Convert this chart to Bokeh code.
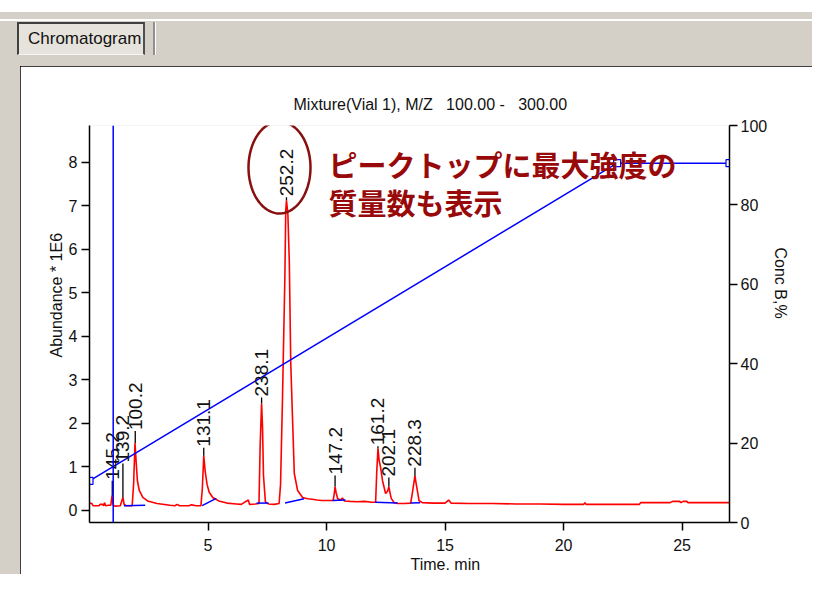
import numpy as np
from bokeh.plotting import figure
from bokeh.layouts import column
from bokeh.models import (LinearAxis, Range1d, FixedTicker, Label, Title, Div,
                          PolyAnnotation, Span)
from bokeh.core.properties import value
from bokeh.embed import file_html
from bokeh.resources import INLINE

# ---------------- data ----------------
trace_time = [0.00, 0.10, 0.15, 0.40, 0.45, 0.55, 0.60, 0.63, 0.68, 0.80, 0.90, 0.95, 1.00,
              1.10, 1.30, 1.36, 1.41, 1.46, 1.55, 1.80, 1.86, 1.92, 1.97, 2.02, 2.10, 2.25,
              2.45, 2.85, 3.40, 3.60, 3.70, 3.80, 4.20, 4.30, 4.50, 4.70, 4.76, 4.82, 4.88,
              4.96, 5.05, 5.20, 5.45, 5.80, 6.20, 6.40, 6.70, 6.75, 7.00, 7.15, 7.20, 7.26,
              7.30, 7.34, 7.42, 7.55, 7.80, 8.00, 8.06, 8.14, 8.24, 8.28, 8.31, 8.37, 8.43,
              8.49, 8.56, 8.64, 8.78, 8.99, 9.20, 9.40, 9.60, 9.80, 10.00, 10.28, 10.33,
              10.36, 10.40, 10.47, 10.60, 10.67, 10.75, 11.00, 11.30, 11.60, 11.90, 12.07,
              12.12, 12.17, 12.22, 12.28, 12.36, 12.49, 12.58, 12.63, 12.68, 12.73, 12.85,
              13.00, 13.30, 13.55, 13.62, 13.73, 13.78, 13.83, 13.90, 14.04, 14.50, 15.00,
              15.15, 15.25, 16.00, 17.00, 18.00, 19.00, 20.00, 20.85, 20.90, 20.95, 22.00,
              23.20, 23.25, 24.50, 24.60, 24.90, 24.95, 25.05, 25.20, 25.25, 27.00]
trace_abund = [0.17, 0.16, 0.11, 0.11, 0.14, 0.14, 0.11, 0.18, 0.11, 0.12, 0.12, 0.34, 0.12,
               0.10, 0.11, 0.22, 0.30, 0.14, 0.11, 0.11, 0.60, 1.55, 1.10, 0.69, 0.46, 0.30,
               0.22, 0.16, 0.12, 0.11, 0.14, 0.11, 0.11, 0.13, 0.11, 0.11, 0.50, 1.26, 0.90,
               0.60, 0.42, 0.30, 0.22, 0.17, 0.15, 0.14, 0.24, 0.14, 0.15, 0.16, 1.50, 2.46,
               1.90, 0.80, 0.20, 0.15, 0.14, 0.16, 0.60, 2.53, 5.29, 6.90, 7.13, 6.80, 5.70,
               3.40, 2.20, 0.85, 0.46, 0.30, 0.27, 0.26, 0.24, 0.23, 0.23, 0.23, 0.40,
               0.55, 0.42, 0.27, 0.24, 0.29, 0.22, 0.21, 0.20, 0.21, 0.19, 0.19,
               0.90, 1.43, 1.15, 0.99, 0.69, 0.39, 0.45, 0.55, 0.40, 0.28, 0.18,
               0.16, 0.16, 0.17, 0.40, 0.80, 0.62, 0.46, 0.23, 0.18, 0.17, 0.17,
               0.24, 0.17, 0.16, 0.16, 0.15, 0.15, 0.14, 0.14, 0.18, 0.14, 0.14,
               0.14, 0.18, 0.18, 0.21, 0.21, 0.18, 0.21, 0.21, 0.18, 0.18]

peak_mz = ["145.2", "139.2", "100.2", "131.1", "238.1", "252.2", "147.2", "161.2", "202.1", "228.3"]
peak_time = [0.96, 1.41, 1.93, 4.82, 7.26, 8.31, 10.36, 12.17, 12.63, 13.73]
peak_height = [0.34, 0.30, 1.55, 1.26, 2.46, 7.13, 0.55, 1.43, 0.55, 0.80]
stem_px = [15, 34, 12, 8, 6, 3, 11, 2, 9, 8]

base_t0 = [1.45, 4.75, 7.05, 8.25, 10.25, 12.05, 13.55]
base_t1 = [2.35, 5.35, 7.55, 9.05, 10.80, 13.00, 13.95]
base_a0 = [0.11, 0.11, 0.17, 0.17, 0.23, 0.19, 0.17]
base_a1 = [0.12, 0.28, 0.17, 0.27, 0.24, 0.17, 0.18]

grad_time = [0.0, 22.26, 27.0]
grad_conc = [10.5, 90.5, 90.5]
injection_time = 1.0

x_ticks = [5, 10, 15, 20, 25]
y_ticks = [0, 1, 2, 3, 4, 5, 6, 7, 8]
conc_ticks = [0, 20, 40, 60, 80, 100]

title_text = "Mixture(Vial 1), M/Z   100.00 -   300.00"
tab_text = "Chromatogram"
note_lines = ["ピークトップに最大強度の", "質量数も表示"]

# ---------------- layout ----------------
PAGE_W, PAGE_H = 812, 574
TOP_H = 66           # window chrome above the white panel
LEFT_M = 20          # grey strip left of the panel
W, H = PAGE_W - LEFT_M, PAGE_H - TOP_H
FL, FR, FT, FB = 69, 709, 59, 456
X0, X1 = 0.0, 27.0
Y0, Y1 = -0.276, 8.85
ppu = (FB - FT) / (Y1 - Y0)

FONT = "Liberation Sans"
GREY = "#d4d0c8"
NOTE_RED = "#980a0a"

p = figure(width=W, height=H, output_backend="svg", toolbar_location=None,
           x_range=Range1d(X0, X1), y_range=Range1d(Y0, Y1),
           min_border_left=FL, min_border_right=W - FR,
           min_border_top=FT, min_border_bottom=H - FB,
           background_fill_color="white", border_fill_color="white",
           outline_line_color=None, title=title_text.replace(" ", "\u00a0"))
p.margin = (0, 0, 0, LEFT_M)
p.styles = {"outline": "2px solid #000000", "outline-offset": "-2px"}
p.xgrid.visible = False
p.ygrid.visible = False
p.extra_y_ranges = {"conc": Range1d(0, 100)}

def style_title(t, offset, standoff):
    t.align = "left"
    t.offset = offset
    t.standoff = standoff
    t.text_font = FONT
    t.text_font_size = "16px"
    t.text_font_style = "normal"
    t.text_color = "#111111"

style_title(p.title, 204, 26)

def style_axis(ax, standoff):
    ax.axis_line_color = "#000000"
    ax.axis_line_width = 1.5
    ax.major_tick_line_color = "#000000"
    ax.major_tick_line_width = 1.5
    ax.major_tick_out = 8
    ax.major_tick_in = 0
    ax.minor_tick_line_color = None
    ax.major_label_text_font = FONT
    ax.major_label_text_font_size = "16px"
    ax.major_label_text_color = "#111111"
    ax.major_label_standoff = standoff

xa = p.xaxis[0]
xa.ticker = FixedTicker(ticks=x_ticks)
style_axis(xa, 8)
ya = p.yaxis[0]
ya.ticker = FixedTicker(ticks=y_ticks)
style_axis(ya, 4)
ra = LinearAxis(y_range_name="conc", ticker=FixedTicker(ticks=conc_ticks))
style_axis(ra, 3)
p.add_layout(ra, "right")

t_left = Title(text="Abundance * 1E6")
style_title(t_left, 165, 2)
p.add_layout(t_left, "left")
t_right = Title(text="Conc B,%")
style_title(t_right, 122, 2)
p.add_layout(t_right, "right")
t_below = Title(text="Time. min")
style_title(t_below, 321, 0)
p.add_layout(t_below, "below")

# ---------------- data glyphs ----------------
p.line(trace_time, trace_abund, line_color="#ff0000", line_width=1.6)

p.segment(x0=base_t0, y0=base_a0, x1=base_t1, y1=base_a1, line_color="#0000ff", line_width=1.5)

p.line(grad_time, grad_conc, y_range_name="conc", line_color="#0000ff", line_width=1.5)
p.scatter(grad_time, grad_conc, y_range_name="conc", marker="square", size=7,
          fill_color="white", line_color="#0000ff", line_width=1.2)

p.add_layout(Span(location=injection_time, dimension="height", line_color="#0000ff",
                  line_width=1.5))

stem_top = [h + s / ppu for h, s in zip(peak_height, stem_px)]
label_y = [t + 1.0 / ppu for t in stem_top]
p.segment(x0=peak_time, y0=peak_height, x1=peak_time, y1=stem_top,
          line_color="#000000", line_width=1.3)
p.text(x=peak_time, y=label_y, text=peak_mz, angle=np.pi / 2,
       text_font=value(FONT), text_font_size="19px", text_color="#111111",
       text_align="left", text_baseline="alphabetic")

# ---------------- callout (canvas units inside the frame) ----------------
th = np.linspace(0, 2 * np.pi, 90)
ex = 259 + 31 * np.cos(th)
ey = 101 + 46 * np.sin(th)
p.add_layout(PolyAnnotation(xs=list(ex), ys=list(ey), xs_units="canvas", ys_units="canvas",
                            fill_color=None, fill_alpha=0, line_color="#881010",
                            line_alpha=1.0, line_width=2.5))
for i, line in enumerate(note_lines):
    p.add_layout(Label(x=308, y=97 + 38 * i, x_units="canvas", y_units="canvas", text=line,
                       text_font="Noto Sans CJK JP", text_font_size="29px",
                       text_font_style="bold", text_color=NOTE_RED,
                       text_align="left", text_baseline="middle"))

# ---------------- window chrome above the panel ----------------
top_html = (
    f'<div style="position:relative;width:{PAGE_W}px;height:{TOP_H}px;background:#ffffff;overflow:hidden;">'
    f'<div style="position:absolute;left:0;top:12px;width:{PAGE_W}px;height:54px;background:{GREY};"></div>'
    f'<div style="position:absolute;left:0;top:19px;width:{PAGE_W}px;height:2px;background:#ffffff;"></div>'
    '<div style="position:absolute;left:17px;top:22px;width:128px;height:33px;box-sizing:border-box;'
    'background:#e6e3dc;border-left:2px solid #404040;border-top:2px solid #404040;'
    'border-right:2px solid #505050;border-bottom:1px solid #f4f4f4;"></div>'
    '<div style="position:absolute;left:28px;top:29px;font-family:\'Liberation Sans\';font-size:17px;'
    f'line-height:20px;color:#111111;white-space:nowrap;">{tab_text}</div>'
    '<div style="position:absolute;left:153px;top:22px;width:2px;height:33px;background:#909090;"></div>'
    '<div style="position:absolute;left:155px;top:22px;width:1px;height:33px;background:#ffffff;"></div>'
    '</div>'
)
chrome = Div(text=top_html, width=PAGE_W, height=TOP_H, margin=0)

layout = column(chrome, p, spacing=0, styles={"background-color": GREY})

open("out.html", "w").write(file_html(layout, INLINE))
